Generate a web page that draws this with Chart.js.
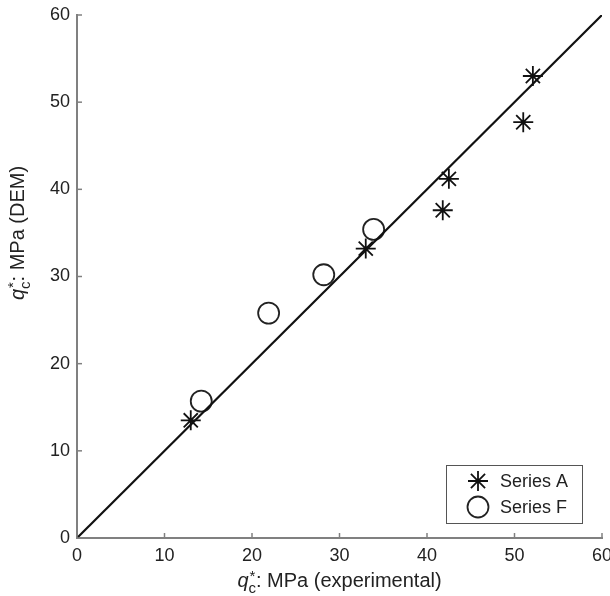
<!DOCTYPE html>
<html><head><meta charset="utf-8">
<script src="https://cdn.jsdelivr.net/npm/chart.js@4"></script>
<style>html,body{margin:0;padding:0;background:#fff}#w{width:610px;height:596px}</style>
</head><body><div id="w"><canvas id="c"></canvas></div>
<script>
const seriesAx = [13.0, 33.0, 41.8, 42.5, 51.0, 52.1];
const seriesAy = [13.5, 33.2, 37.6, 41.2, 47.7, 53.0];
const seriesFx = [14.2, 21.9, 28.2, 33.9];
const seriesFy = [15.7, 25.8, 30.2, 35.4];
const lineX = [0, 60];
const lineY = [0, 60];
const tickValues = [0, 10, 20, 30, 40, 50, 60];
const legendLabels = ['Series A', 'Series F'];
const xTitleParts = ['q', '*', 'c', ': MPa (experimental)'];
const yTitleParts = ['q', '*', 'c', ': MPa (DEM)'];

const FONT = '"Liberation Sans", Arial, sans-serif';
const toPts = (xs, ys) => xs.map((x, i) => ({x, y: ys[i]}));

function drawTitle(ctx, parts, size) {
  const fN = size + 'px ' + FONT, fI = 'italic ' + size + 'px ' + FONT, fS = Math.round(size * 0.75) + 'px ' + FONT;
  ctx.font = fI; const w0 = ctx.measureText(parts[0]).width;
  ctx.font = fS; const w1 = ctx.measureText(parts[1]).width; const w2 = ctx.measureText(parts[2]).width;
  ctx.font = fN; const w3 = ctx.measureText(parts[3]).width;
  const total = w0 + Math.max(w1, w2) + w3;
  return {total, draw(x, y) {
    ctx.fillStyle = '#222'; ctx.textBaseline = 'alphabetic'; ctx.textAlign = 'left';
    ctx.font = fI; ctx.fillText(parts[0], x, y);
    ctx.font = fS; ctx.fillText(parts[1], x + w0 + 1, y - size * 0.3);
    ctx.fillText(parts[2], x + w0, y + size * 0.3);
    ctx.font = fN; ctx.fillText(parts[3], x + w0 + Math.max(w1, w2), y);
  }};
}

const deco = {
  id: 'deco',
  afterDraw(chart) {
    const ctx = chart.ctx, xs = chart.scales.x, ys = chart.scales.y, a = chart.chartArea;
    ctx.save();
    ctx.strokeStyle = '#808080'; ctx.lineWidth = 1.5;
    tickValues.forEach(v => {
      const px = xs.getPixelForValue(v);
      ctx.beginPath(); ctx.moveTo(px, a.bottom); ctx.lineTo(px, a.bottom - 5); ctx.stroke();
      const py = ys.getPixelForValue(v);
      ctx.beginPath(); ctx.moveTo(a.left, py); ctx.lineTo(a.left + 5, py); ctx.stroke();
    });
    const tx = drawTitle(ctx, xTitleParts, 20);
    tx.draw((a.left + a.right) / 2 - tx.total / 2, 587);
    const ty = drawTitle(ctx, yTitleParts, 20);
    ctx.translate(24, 233); ctx.rotate(-Math.PI / 2);
    ty.draw(-ty.total / 2, 0);
    ctx.restore();
    // legend
    ctx.save();
    const bx = 446, by = 465, bw = 136, bh = 58;
    ctx.fillStyle = '#fff'; ctx.fillRect(bx, by, bw, bh);
    ctx.strokeStyle = '#555'; ctx.lineWidth = 1; ctx.strokeRect(bx + 0.5, by + 0.5, bw, bh);
    const ds = chart.data.datasets;
    [[0, by + 16], [1, by + 42]].forEach(([i, y]) => {
      const d = ds[i + 1];
      ctx.strokeStyle = d.pointBorderColor; ctx.fillStyle = 'rgba(0,0,0,0)';
      ctx.lineWidth = d.pointBorderWidth;
      Chart.helpers.drawPoint(ctx, {pointStyle: d.pointStyle, radius: d.pointRadius, rotation: 0, borderWidth: d.pointBorderWidth}, 478, y);
      ctx.fillStyle = '#222'; ctx.font = '18px ' + FONT; ctx.textBaseline = 'middle'; ctx.textAlign = 'left';
      ctx.fillText(legendLabels[i], 500, y + 1);
    });
    ctx.restore();
  }
};

new Chart(document.getElementById('c'), {
  type: 'scatter',
  data: {datasets: [
    {label: 'y = x', type: 'line', data: toPts(lineX, lineY), borderColor: '#111', borderWidth: 2.2, pointRadius: 0, fill: false},
    {label: legendLabels[0], data: toPts(seriesAx, seriesAy), pointStyle: 'star', pointRadius: 10, pointBorderWidth: 1.8, pointBorderColor: '#111', pointBackgroundColor: 'rgba(0,0,0,0)'},
    {label: legendLabels[1], data: toPts(seriesFx, seriesFy), pointStyle: 'circle', pointRadius: 10.5, pointBorderWidth: 1.8, pointBorderColor: '#222', pointBackgroundColor: 'rgba(255,255,255,0)'}
  ]},
  options: {
    responsive: true, maintainAspectRatio: false, animation: false,
    layout: {autoPadding: false, padding: {top: 15, right: 8, left: 0, bottom: 0}},
    plugins: {legend: {display: false}, tooltip: {enabled: false}},
    scales: {
      x: {type: 'linear', min: 0, max: 60,
        afterFit: s => { s.height = 58; s.paddingRight = 0; s.paddingLeft = 0; },
        afterBuildTicks: s => { s.ticks = tickValues.map(v => ({value: v})); },
        grid: {display: true, drawOnChartArea: false, drawTicks: false},
        border: {color: '#808080', width: 2},
        ticks: {padding: 7, color: '#222', font: {family: FONT, size: 18}}},
      y: {type: 'linear', min: 0, max: 60,
        afterFit: s => { s.width = 77; s.paddingTop = 0; s.paddingBottom = 0; },
        afterBuildTicks: s => { s.ticks = tickValues.map(v => ({value: v})); },
        grid: {display: true, drawOnChartArea: false, drawTicks: false},
        border: {color: '#808080', width: 2},
        ticks: {padding: 7, color: '#222', font: {family: FONT, size: 18}}}
    }
  },
  plugins: [deco]
});
</script></body></html>
